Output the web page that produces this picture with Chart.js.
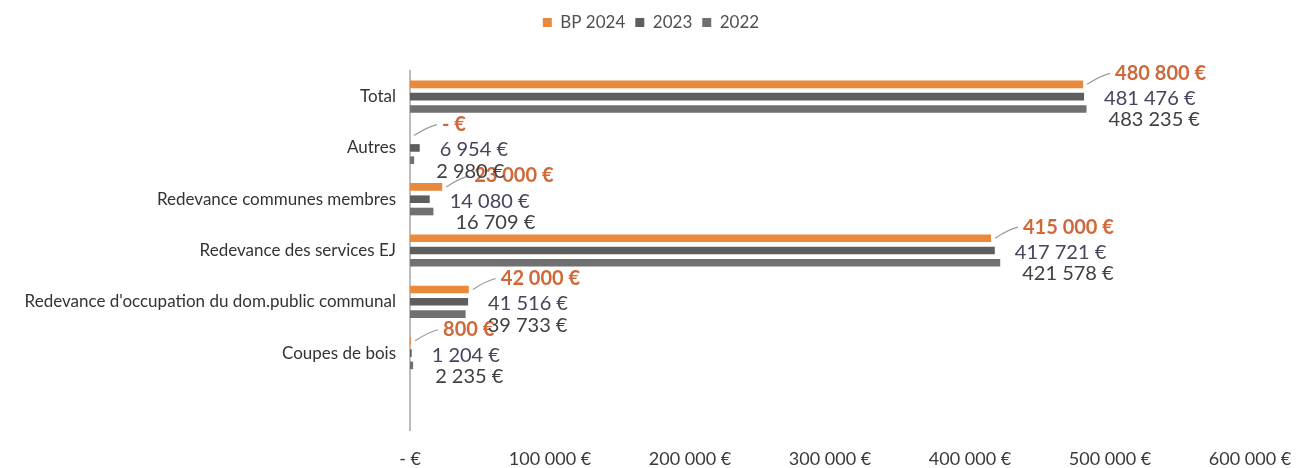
<!DOCTYPE html>
<html>
<head>
<meta charset="utf-8">
<script src="https://cdn.jsdelivr.net/npm/chart.js@4"></script>
<style>
  html, body { margin: 0; padding: 0; background: #fff; }
  #wrap { width: 1299px; height: 468px; }
</style>
</head>
<body>
<div id="wrap"><canvas id="chart" width="1299" height="468"></canvas></div>
<script>
// ================= DATA =================
const categories = [
  "Total",
  "Autres",
  "Redevance communes membres",
  "Redevance des services EJ",
  "Redevance d'occupation du dom.public communal",
  "Coupes de bois",
  ""
];
const bp2024 = [480800, 0, 23000, 415000, 42000, 800, null];
const y2023  = [481476, 6954, 14080, 417721, 41516, 1204, null];
const y2022  = [483235, 2980, 16709, 421578, 39733, 2235, null];
const xTicks = [0, 100000, 200000, 300000, 400000, 500000, 600000];

// ================= HELPERS =================
function euro(v) {
  if (!v) return "- €";
  return String(v).replace(/\B(?=(\d{3})+(?!\d))/g, " ") + " €";
}

const FONT = "Lato, 'Open Sans', sans-serif";
const labelStyle = [
  { color: "#d0693a", dx: 32, dy: -11, bold: true, leader: true },
  { color: "#44445c", dx: 20, dy: 2, bold: false, leader: false },
  { color: "#404040", dx: 22, dy: 11, bold: false, leader: false }
];

// data labels, drawn to the right of each bar end
const valueLabels = {
  id: "valueLabels",
  afterDatasetsDraw(chart) {
    const ctx = chart.ctx;
    chart.data.datasets.forEach((ds, i) => {
      const st = labelStyle[i];
      chart.getDatasetMeta(i).data.forEach((bar, j) => {
        const v = ds.data[j];
        if (v === null) return;
        const x = bar.x + st.dx, y = bar.y + st.dy;
        ctx.save();
        if (st.leader) {
          ctx.strokeStyle = "#9a9a9a";
          ctx.lineWidth = 1.2;
          ctx.beginPath();
          ctx.moveTo(bar.x + 4, bar.y);
          ctx.quadraticCurveTo(x - 14, y + 2, x - 5, y);
          ctx.stroke();
        }
        ctx.font = (st.bold ? "bold " : "") + "20px " + FONT;
        ctx.fillStyle = st.color;
        ctx.textAlign = "left";
        ctx.textBaseline = "middle";
        ctx.fillText(euro(v), x, y);
        ctx.restore();
      });
    });
  }
};

// extra room under the legend and shift it to the right, like the original
const legendSpace = {
  id: "legendSpace",
  beforeInit(chart) {
    const fit = chart.legend.fit;
    chart.legend.fit = function () {
      fit.bind(chart.legend)();
      this.height += 30;
    };
  },
  afterLayout(chart) {
    chart.legend.left += 26;
    chart.legend.right += 26;
  }
};

// ================= CHART =================
new Chart(document.getElementById("chart"), {
  type: "bar",
  data: {
    labels: categories,
    datasets: [
      { label: "BP 2024", data: bp2024, backgroundColor: "#e8893c" },
      { label: "2023", data: y2023, backgroundColor: "#5e5e5e" },
      { label: "2022", data: y2022, backgroundColor: "#707070" }
    ]
  },
  options: {
    indexAxis: "y",
    responsive: false,
    animation: false,
    layout: { padding: { top: 4, right: 49, left: 0, bottom: 0 } },
    datasets: { bar: { categoryPercentage: 0.72, barPercentage: 0.62 } },
    plugins: {
      legend: {
        position: "top",
        labels: {
          font: { family: FONT, size: 17 },
          color: "#505050",
          boxWidth: 9,
          boxHeight: 9,
          padding: 10
        }
      },
      tooltip: { enabled: false }
    },
    scales: {
      x: {
        min: 0,
        max: 600000,
        afterBuildTicks: s => { s.ticks = xTicks.map(v => ({ value: v })); },
        afterFit: s => { s.height = 38; s.paddingLeft = 0; s.paddingRight = 0; },
        grid: { display: false, drawTicks: false },
        border: { display: false },
        ticks: {
          callback: v => euro(v),
          font: { family: FONT, size: 18 },
          color: "#3a3a3a",
          padding: 18,
          maxRotation: 0
        }
      },
      y: {
        afterFit: s => { s.width = 410; },
        grid: { display: false, drawTicks: false },
        border: { display: true, color: "#bdbdbd", width: 2 },
        ticks: {
          font: { family: FONT, size: 17 },
          color: "#333333",
          padding: 14
        }
      }
    }
  },
  plugins: [valueLabels, legendSpace]
});
</script>
</body>
</html>
